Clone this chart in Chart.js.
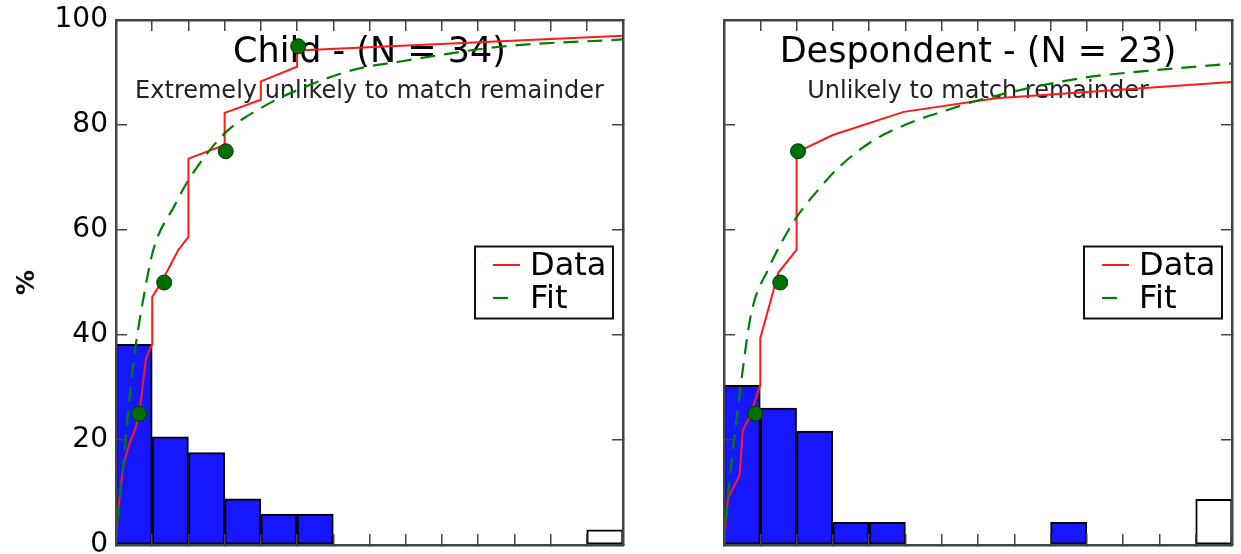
<!DOCTYPE html>
<html>
<head>
<meta charset="utf-8">
<script src="https://cdn.jsdelivr.net/npm/chart.js@4.4.1/dist/chart.umd.min.js"></script>
<style>
    html, body { margin: 0; padding: 0; background: #fff; }
    #wrap { position: relative; width: 1241px; height: 554px; }
    .panel { position: absolute; top: 0; height: 554px; }
    #panelChild { left: 0; width: 640px; }
    #panelDesp { left: 640px; width: 601px; }
</style>
</head>
<body>
<div id="wrap">
    <div class="panel" id="panelChild"><canvas id="chartChild"></canvas></div>
    <div class="panel" id="panelDesp"><canvas id="chartDesp"></canvas></div>
</div>
<script>
// bins and ticks
const binEdges = [0, 1, 2, 3, 4, 5, 6, 7, 8, 9, 10, 11, 12, 13, 14];
const binMids = [0.5, 1.5, 2.5, 3.5, 4.5, 5.5, 6.5, 7.5, 8.5, 9.5, 10.5, 11.5, 12.5, 13.5];
const yTickValues = [0, 20, 40, 60, 80, 100];

// Child - (N = 34)
const childHist = [38.2, 20.6, 17.6, 8.8, 5.9, 5.9, null, null, null, null, null, null, null, 2.9];
const childCdfX = [0, 0.05, 0.2, 0.34, 0.52, 0.64, 0.8, 0.83, 1.0, 1.0, 1.21, 1.72, 2.0, 2.0, 3.0, 3.0, 4.0, 4.0, 5.0, 5.0, 14];
const childCdfY = [0, 6, 15, 18.7, 21.9, 24.8, 34, 35.6, 38.3, 47.3, 49.5, 56.2, 58.7, 73.6, 76.2, 82.3, 84.8, 88.3, 91.1, 94.2, 97];
const childFitX = [0, 0.05, 0.2, 0.35, 0.52, 0.75, 1.03, 1.63, 2.0, 3.0, 4.07, 5.13, 6.55, 7.85, 10.6, 14];
const childFitY = [0, 5, 15, 26.5, 36.8, 46.7, 56.2, 64.8, 69.5, 78.4, 83.5, 87, 90.5, 92.1, 94.9, 96.3];
const childQx = [0.64, 1.33, 3.03, 5.03];
const childQy = [25, 50, 75, 95];

// Despondent - (N = 23)
const despHist = [30.4, 26.1, 21.7, 4.3, 4.3, null, null, null, null, 4.3, null, null, null, 8.7];
const despCdfX = [0, 0.02, 0.11, 0.43, 0.52, 0.71, 1.0, 1.0, 1.5, 2.0, 2.0, 3.0, 4.95, 7.5, 14];
const despCdfY = [0, 2.2, 8.9, 13.3, 21.9, 24.4, 30.5, 39.4, 51.9, 56.2, 74.8, 78.1, 82.5, 85.1, 88.2];
const despFitX = [0, 0.02, 0.11, 0.48, 0.75, 1.21, 1.95, 2.59, 3.19, 4.06, 5.08, 6.18, 7.06, 9.82, 11.66, 14];
const despFitY = [0, 2.2, 9.2, 31.4, 44.1, 52.4, 61.9, 67.6, 72.1, 76.8, 80.3, 82.9, 84.8, 88.9, 90.3, 91.7];
const despQx = [0.86, 1.55, 2.04];
const despQy = [25, 50, 75];

const FONT = '"DejaVu Sans", "Liberation Sans", sans-serif';
const AXIS_COLOR = '#444';

const zip = (xs, ys) => xs.map((x, i) => ({ x, y: ys[i] }));

// title + subtitle inside the plot, under the lines
const panelText = {
    id: 'panelText',
    beforeDatasetsDraw(chart, args, opts) {
        const { ctx, chartArea } = chart;
        const cx = (chartArea.left + chartArea.right) / 2;
        ctx.save();
        ctx.textAlign = 'center';
        ctx.textBaseline = 'alphabetic';
        ctx.fillStyle = '#000';
        ctx.font = `35px ${FONT}`;
        ctx.fillText(opts.title, cx, chartArea.top + 41.5);
        ctx.fillStyle = '#222';
        ctx.font = `24px ${FONT}`;
        ctx.fillText(opts.subtitle, cx, chartArea.top + 78);
        ctx.restore();
    }
};

// boxed legend, center right
const boxLegend = {
    id: 'boxLegend',
    afterDatasetsDraw(chart) {
        const { ctx, chartArea } = chart;
        const items = chart.data.datasets.filter(d => d.inLegend);
        const w = 138, h = 72;
        const left = chartArea.right - 10 - w;
        const top = (chartArea.top + chartArea.bottom) / 2 - h / 2;
        ctx.save();
        ctx.fillStyle = '#fff';
        ctx.fillRect(left, top, w, h);
        ctx.lineWidth = 2;
        ctx.strokeStyle = '#111';
        ctx.strokeRect(left, top, w, h);
        items.forEach((d, i) => {
            const y = top + 18.5 + i * 33;
            const dashed = !!d.borderDash;
            ctx.beginPath();
            ctx.strokeStyle = d.borderColor;
            ctx.lineWidth = d.borderWidth;
            ctx.moveTo(left + 18, y);
            ctx.lineTo(left + (dashed ? 33 : 45), y);
            ctx.stroke();
            ctx.fillStyle = '#000';
            ctx.font = `32px ${FONT}`;
            ctx.textAlign = 'left';
            ctx.textBaseline = 'alphabetic';
            ctx.fillText(d.label, left + 55, top + 28.5 + i * 33);
        });
        ctx.restore();
    }
};

function tickAxis(position, extra) {
    const horizontal = position === 'top' || position === 'bottom';
    return Object.assign({
        type: 'linear',
        position,
        offset: false,
        min: 0,
        max: horizontal ? 14 : 100,
        afterBuildTicks: (scale) => {
            scale.ticks = (horizontal ? binEdges : yTickValues).map(v => ({ value: v }));
        },
        afterFit: (scale) => {
            if (horizontal) scale.height = 0; else scale.width = 0;
            scale.paddingTop = 0; scale.paddingBottom = 0;
            scale.paddingLeft = 0; scale.paddingRight = 0;
        },
        ticks: { display: false },
        grid: {
            display: true,
            offset: false,
            drawOnChartArea: false,
            drawTicks: true,
            tickLength: -11,
            color: AXIS_COLOR,
            lineWidth: 1.5,
            z: 1
        },
        border: { display: true, color: AXIS_COLOR, width: 2.5, z: 1 }
    }, extra || {});
}

function buildPanel(canvasId, p) {
    const blue = '#1717ff';
    const last = p.hist.length - 1;
    const yLeft = tickAxis('left', {
        afterFit: (scale) => {
            scale.width = p.leftWidth;
            scale.paddingTop = 0;
            scale.paddingBottom = 0;
        },
        ticks: {
            display: p.showLabels,
            color: '#000',
            padding: 19,
            font: { family: FONT, size: 28 }
        },
        title: {
            display: p.showLabels,
            text: '%',
            color: '#111',
            padding: { top: 12, bottom: 0 },
            font: { family: FONT, size: 25, weight: 'bold' }
        }
    });
    return new Chart(document.getElementById(canvasId), {
        type: 'bar',
        data: {
            datasets: [
                {
                    type: 'line',
                    label: 'Quartiles',
                    data: zip(p.qx, p.qy),
                    showLine: false,
                    pointRadius: 7.5,
                    pointBackgroundColor: '#007000',
                    pointBorderColor: '#003300',
                    pointBorderWidth: 1,
                    order: 0
                },
                {
                    type: 'line',
                    label: 'Data',
                    inLegend: true,
                    data: zip(p.cdfX, p.cdfY),
                    borderColor: '#ff1a1a',
                    borderWidth: 2,
                    pointRadius: 0,
                    tension: 0,
                    fill: false,
                    order: 2
                },
                {
                    type: 'line',
                    label: 'Fit',
                    inLegend: true,
                    data: zip(p.fitX, p.fitY),
                    borderColor: '#008000',
                    borderWidth: 2.2,
                    borderDash: [15, 9],
                    pointRadius: 0,
                    cubicInterpolationMode: 'monotone',
                    fill: false,
                    order: 1
                },
                {
                    type: 'bar',
                    label: 'Histogram',
                    data: zip(binMids, p.hist),
                    backgroundColor: (c) => c.dataIndex === last ? '#ffffff' : blue,
                    borderColor: '#000',
                    borderWidth: 2,
                    borderSkipped: false,
                    barPercentage: 1,
                    categoryPercentage: 1,
                    order: 3
                }
            ]
        },
        options: {
            responsive: true,
            maintainAspectRatio: false,
            animation: false,
            layout: { padding: { left: 0, right: p.padRight, top: 20, bottom: 9 } },
            plugins: {
                legend: { display: false },
                tooltip: { enabled: false },
                panelText: { title: p.title, subtitle: p.subtitle }
            },
            scales: {
                x: tickAxis('bottom'),
                x2: tickAxis('top'),
                y: yLeft,
                y2: tickAxis('right')
            }
        },
        plugins: [panelText, boxLegend]
    });
}

buildPanel('chartChild', {
    title: 'Child - (N = 34)',
    subtitle: 'Extremely unlikely to match remainder',
    hist: childHist, cdfX: childCdfX, cdfY: childCdfY,
    fitX: childFitX, fitY: childFitY, qx: childQx, qy: childQy,
    showLabels: true, leftWidth: 116, padRight: 17
});

buildPanel('chartDesp', {
    title: 'Despondent - (N = 23)',
    subtitle: 'Unlikely to match remainder',
    hist: despHist, cdfX: despCdfX, cdfY: despCdfY,
    fitX: despFitX, fitY: despFitY, qx: despQx, qy: despQy,
    showLabels: false, leftWidth: 84, padRight: 9
});
</script>
</body>
</html>
